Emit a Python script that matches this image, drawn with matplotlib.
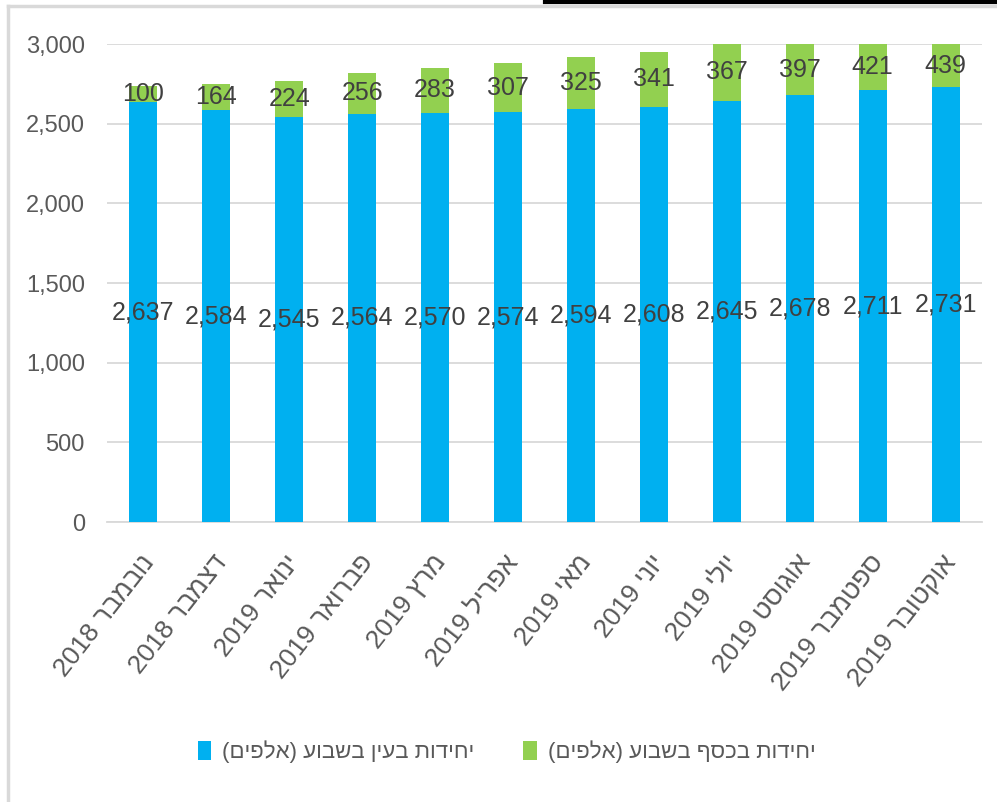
import matplotlib
matplotlib.use("Agg")
import matplotlib.pyplot as plt
from matplotlib.lines import Line2D
from matplotlib.patches import Patch
import matplotlib.transforms as mtransforms
import numpy as np

# ---- data ----
months = ["נובמבר 2018", "דצמבר 2018", "ינואר 2019", "פברואר 2019", "מרץ 2019",
          "אפריל 2019", "מאי 2019", "יוני 2019", "יולי 2019", "אוגוסט 2019",
          "ספטמבר 2019", "אוקטובר 2019"]
units_kind = [2637, 2584, 2545, 2564, 2570, 2574, 2594, 2608, 2645, 2678, 2711, 2731]
units_cash = [100, 164, 224, 256, 283, 307, 325, 341, 367, 397, 421, 439]
series_names = ["יחידות בעין בשבוע (אלפים)", "יחידות בכסף בשבוע (אלפים)"]
yticks = [0, 500, 1000, 1500, 2000, 2500, 3000]


def visual_heb(s):
    """Convert logical Hebrew text to visual order (simple bidi)."""
    words = s.split(" ")
    out = []
    for w in words:
        if any('\u0590' <= c <= '\u05FF' for c in w):
            r = w[::-1]
            r = r.translate(str.maketrans("()", ")("))
            out.append(r)
        else:
            out.append(w)
    return " ".join(out[::-1])


BLUE = "#00B0F0"
GREEN = "#92D050"
LABEL = "#404040"
TICK = "#595959"
GRID = "#D9D9D9"
NUMF = ["Liberation Sans", "DejaVu Sans"]
HEB = ["Liberation Sans", "DejaVu Sans"]

fig = plt.figure(figsize=(9.97, 8.02), dpi=100)
ax = fig.add_axes([0.1073, 0.349, 0.8777, 0.596])

x = np.arange(len(months))
w = 0.385
ax.bar(x, units_kind, w, color=BLUE, zorder=3)
ax.bar(x, units_cash, w, bottom=units_kind, color=GREEN, zorder=3)

ymax = 3000
ax.set_ylim(0, ymax)
ax.set_xlim(-0.5, len(months) - 0.5)
ax.set_yticks(yticks)
ax.set_yticklabels([f"{v:,}" for v in yticks], fontfamily=NUMF, fontsize=17, color=TICK)
ax.yaxis.grid(True, color=GRID, linewidth=1.3, zorder=0)
ax.set_axisbelow(True)
for s in ["left", "right", "top"]:
    ax.spines[s].set_visible(False)
ax.spines["bottom"].set_color(GRID)
ax.spines["bottom"].set_linewidth(1.3)
ax.tick_params(axis="both", length=0)
ax.tick_params(axis="y", pad=16)

ax.set_xticks(x)
ax.set_xticklabels([visual_heb(m) for m in months], rotation=52, ha="right",
                   va="center", rotation_mode="anchor", fontfamily=HEB,
                   fontsize=19, color=TICK)
offset = mtransforms.ScaledTranslation(0.06, -0.31, fig.dpi_scale_trans)
for lbl in ax.get_xticklabels():
    lbl.set_transform(lbl.get_transform() + offset)

# data labels
for xi, b, g in zip(x, units_kind, units_cash):
    ax.text(xi, b / 2, f"{b:,}", ha="center", va="center", fontfamily=NUMF,
            fontsize=18, color=LABEL, zorder=5)
    top = min(b + g, ymax)
    ax.text(xi, (b + top) / 2, f"{g:,}", ha="center", va="center", fontfamily=NUMF,
            fontsize=18, color=LABEL, zorder=5)

handles = [Patch(facecolor=BLUE), Patch(facecolor=GREEN)]
leg = fig.legend(handles, [visual_heb(n) for n in series_names], loc="center",
                 bbox_to_anchor=(0.508, 1 - 752 / 802), ncol=2, frameon=False,
                 prop={"family": HEB, "size": 16}, handlelength=0.6, handleheight=0.9,
                 handletextpad=0.5, columnspacing=2.2)
for t in leg.get_texts():
    t.set_color(TICK)

# frame fragments
fig.add_artist(Line2D([8 / 997, 8 / 997], [0, 1 - 6 / 802], transform=fig.transFigure,
                      color="#D9D9D9", linewidth=2.5))
fig.add_artist(Line2D([8 / 997, 1], [1 - 6 / 802, 1 - 6 / 802], transform=fig.transFigure,
                      color="#D9D9D9", linewidth=2.5))
fig.add_artist(Line2D([545 / 997, 1], [1 - 1.5 / 802, 1 - 1.5 / 802], transform=fig.transFigure,
                      color="black", linewidth=3))

fig.savefig("out.png", dpi=100)
